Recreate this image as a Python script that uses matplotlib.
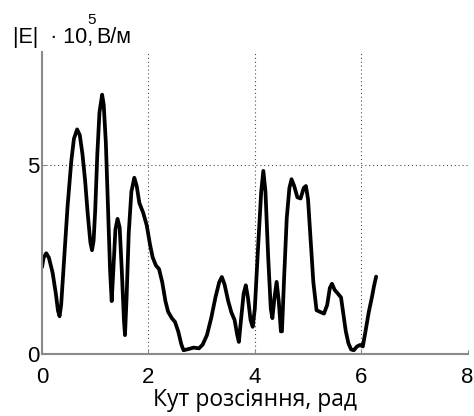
import matplotlib
matplotlib.use("Agg")
import matplotlib.pyplot as plt

# values
angle = [0.0, 0.03, 0.08, 0.13, 0.2, 0.26, 0.3, 0.33, 0.36, 0.42, 0.48,
         0.55, 0.6, 0.66, 0.71, 0.76, 0.81, 0.86, 0.91, 0.94, 0.97, 1.0,
         1.04, 1.08, 1.13, 1.16, 1.2, 1.24, 1.28, 1.31, 1.34, 1.38, 1.42,
         1.46, 1.5, 1.54, 1.56, 1.59, 1.63, 1.68, 1.735, 1.78, 1.83, 1.9,
         1.97, 2.03, 2.08, 2.14, 2.2, 2.26, 2.32, 2.37, 2.44, 2.5, 2.56,
         2.62, 2.66, 2.75, 2.85, 2.95, 3.02, 3.1, 3.18, 3.26, 3.33, 3.38,
         3.43, 3.5, 3.56, 3.62, 3.67, 3.7, 3.74, 3.79, 3.83, 3.87, 3.92,
         3.96, 4.0, 4.06, 4.12, 4.16, 4.2, 4.25, 4.3, 4.33, 4.37, 4.41,
         4.45, 4.49, 4.51, 4.55, 4.6, 4.65, 4.69, 4.74, 4.8, 4.86, 4.92,
         4.96, 5.0, 5.05, 5.1, 5.16, 5.22, 5.3, 5.36, 5.41, 5.45, 5.5,
         5.56, 5.62, 5.66, 5.71, 5.76, 5.81, 5.86, 5.92, 5.98, 6.03, 6.08,
         6.14, 6.2, 6.24, 6.28]
field = [2.3, 2.55, 2.67, 2.55, 2.15, 1.6, 1.15, 1.0, 1.3, 2.6, 3.9,
         5.1, 5.7, 5.95, 5.8, 5.3, 4.6, 3.7, 2.95, 2.75, 3.0, 3.8,
         5.3, 6.4, 6.87, 6.6, 5.6, 3.9, 2.2, 1.4, 2.2, 3.3, 3.58,
         3.35, 2.2, 0.9, 0.5, 1.5, 3.2, 4.3, 4.67, 4.45, 4.0, 3.75,
         3.4, 2.9, 2.56, 2.35, 2.25, 1.9, 1.4, 1.12, 0.95, 0.85, 0.6,
         0.25, 0.1, 0.13, 0.17, 0.15, 0.25, 0.5, 0.95, 1.5, 1.9, 2.04,
         1.85, 1.4, 1.1, 0.9, 0.5, 0.32, 0.9, 1.6, 1.82, 1.5, 0.9,
         0.72, 1.2, 2.8, 4.3, 4.85, 4.3, 2.6, 1.2, 0.95, 1.5, 1.91,
         1.4, 0.6, 0.6, 2.0, 3.6, 4.4, 4.63, 4.45, 4.15, 4.12, 4.4,
         4.45, 4.1, 3.0, 1.9, 1.16, 1.12, 1.07, 1.3, 1.75, 1.86, 1.7,
         1.6, 1.5, 1.1, 0.6, 0.28, 0.12, 0.1, 0.2, 0.24, 0.2, 0.6,
         1.1, 1.5, 1.8, 2.05]
xticks = [0, 2, 4, 6, 8]
yticks = [0, 5]

fig = plt.figure(figsize=(4.74, 4.16), dpi=100)
ax = fig.add_axes([0.0886, 0.149, 0.898, 0.726])

ax.plot(angle, field, color="black", linewidth=2.7,
        solid_joinstyle="round", solid_capstyle="round")

ax.set_xlim(0, 8)
ax.set_ylim(0, 8)
ax.set_xticks(xticks)
ax.set_yticks(yticks)
ax.set_xticklabels([str(t) for t in xticks], family="Liberation Sans", fontsize=16)
ax.set_yticklabels([str(t) for t in yticks], family="Liberation Sans", fontsize=16)
ax.tick_params(direction="in", length=3, color="#888888")
ax.tick_params(axis="x", pad=9)
ax.tick_params(axis="y", pad=2)

ax.grid(True, linestyle=(0, (1, 2.5)), color="black", linewidth=0.8, alpha=0.7)
for side in ["top", "right"]:
    ax.spines[side].set_visible(False)
for side in ["left", "bottom"]:
    ax.spines[side].set_color("#8a8a8a")
    ax.spines[side].set_linewidth(1.5)

ax.set_xlabel("Кут розсіяння, рад", family="Open Sans", fontsize=16.5, labelpad=0)

fig.text(0.027, 0.897, "|E|  · 10,", family="Liberation Sans", fontsize=15.5)
fig.text(0.184, 0.942, "5", family="Liberation Sans", fontsize=11)
fig.text(0.203, 0.897, "В/м", family="Liberation Sans", fontsize=15.5)

fig.savefig("out.png", dpi=100)
